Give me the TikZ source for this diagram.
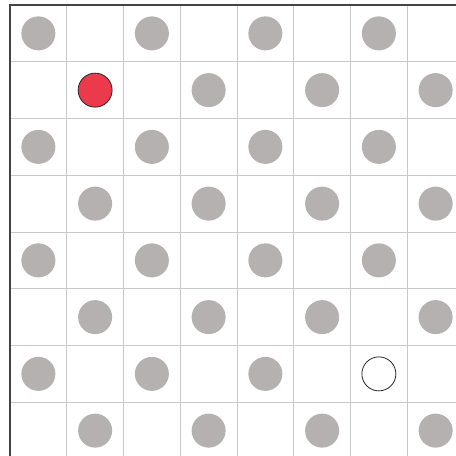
\documentclass[tikz,border=0pt]{standalone}
\definecolor{gridgray}{HTML}{C8C8C8}
\definecolor{framegray}{HTML}{444444}
\definecolor{dotgray}{HTML}{B5B1B0}
\definecolor{dotred}{HTML}{EA3A4B}
\begin{document}
\begin{tikzpicture}[x=1pt,y=-1pt,
  gridline/.style={draw=gridgray,line width=1pt},
  frameline/.style={draw=framegray,line width=1.4pt},
  dot/.style={circle,fill=dotgray,minimum size=34pt,inner sep=0pt},
  reddot/.style={circle,fill=dotred,draw=black!85,line width=0.8pt,minimum size=34pt,inner sep=0pt},
  emptydot/.style={circle,fill=white,draw=black!85,line width=0.8pt,minimum size=34pt,inner sep=0pt}]
\useasboundingbox (0,0) rectangle (456,456);
\fill[white] (0,0) rectangle (456,456);
\begin{scope}
\clip (0,0) rectangle (456,456);
\foreach \k in {1,...,8} {
  \draw[gridline] ({10+56.75*\k},5) -- ({10+56.75*\k},470);
  \draw[gridline] (10,{5+56.75*\k}) -- (470,{5+56.75*\k});
}
\draw[frameline] (10,470) -- (10,5) -- (470,5);
\foreach \r in {0,...,7} {
  \foreach \c in {0,...,7} {
    \pgfmathtruncatemacro{\parity}{mod(\r+\c,2)}
    \pgfmathtruncatemacro{\kind}{(\r==1 && \c==1) ? 1 : ((\r==6 && \c==6) ? 2 : 0)}
    \ifnum\parity=0
      \ifcase\kind
        \node[dot] (d\r\c) at ({10+56.75*(\c+0.5)},{5+56.75*(\r+0.5)}) {};
      \or
        \node[reddot] (d\r\c) at ({10+56.75*(\c+0.5)},{5+56.75*(\r+0.5)}) {};
      \or
        \node[emptydot] (d\r\c) at ({10+56.75*(\c+0.5)},{5+56.75*(\r+0.5)}) {};
      \fi
    \fi
  }
}
\end{scope}
\end{tikzpicture}
\end{document}
